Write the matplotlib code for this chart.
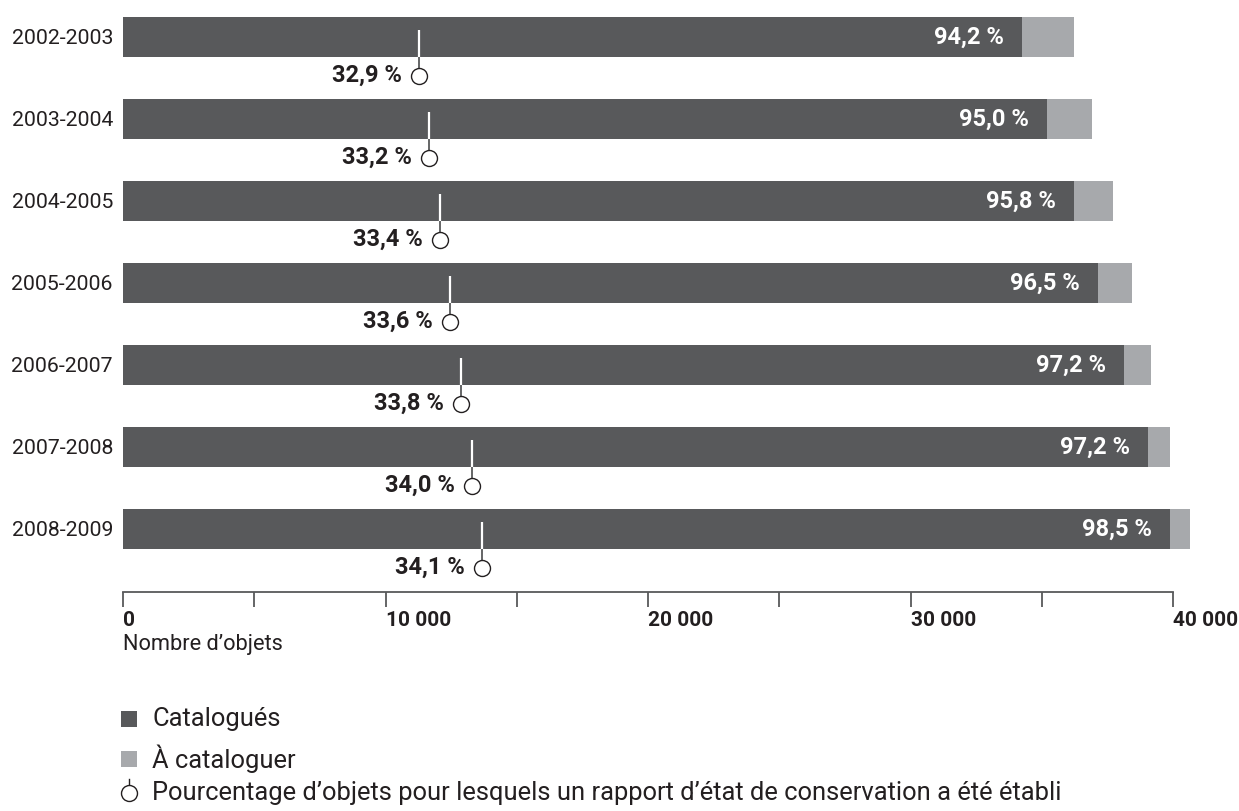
import matplotlib
matplotlib.use("Agg")
import matplotlib.pyplot as plt
from matplotlib.patches import Rectangle
from matplotlib.lines import Line2D

# ---------------- data ----------------
years = ["2002-2003", "2003-2004", "2004-2005", "2005-2006",
         "2006-2007", "2007-2008", "2008-2009"]
catalogues = [34250, 35200, 36230, 37140, 38130, 39050, 39890]
a_cataloguer = [1980, 1710, 1480, 1300, 1030, 840, 760]
conserves = [11280, 11670, 12080, 12460, 12860, 13280, 13670]
pct_catalogues = ["94,2 %", "95,0 %", "95,8 %", "96,5 %", "97,2 %", "97,2 %", "98,5 %"]
pct_conserves = ["32,9 %", "33,2 %", "33,4 %", "33,6 %", "33,8 %", "34,0 %", "34,1 %"]
xticks_major = [0, 10000, 20000, 30000, 40000]
xtick_labels = ["0", "10 000", "20 000", "30 000", "40 000"]
xticks_minor = [5000, 15000, 25000, 35000]
legend_labels = ["Catalogués", "À cataloguer",
                 "Pourcentage d’objets pour lesquels un rapport d’état de conservation a été établi"]

# ---------------- style ----------------
plt.rcParams["font.family"] = ["Roboto", "DejaVu Sans"]
DARK = "#58595b"
LIGHT = "#a7a9ac"
TXT = "#231f20"

W, H = 1239, 811
fig = plt.figure(figsize=(W / 100, H / 100), dpi=100)
fig.patch.set_facecolor("white")

def fx(px):
    return px / W

def fy(py):
    return 1 - py / H

# axes: x 123..1173 px, y 0..592 px
ax = fig.add_axes([fx(123), fy(592), (1173 - 123) / W, 592 / H])
ROW = 82.0  # px per category
ax.set_xlim(0, 40000)
ax.set_ylim(6 + 63 / ROW, -37 / ROW)

n = len(years)
ypos = list(range(n))
bar_h = 40 / ROW
ax.barh(ypos, catalogues, height=bar_h, color=DARK, zorder=2, clip_on=False)
ax.barh(ypos, a_cataloguer, left=catalogues, height=bar_h, color=LIGHT, zorder=2, clip_on=False)

def u(px):
    return px / ROW

for i in range(n):
    x = conserves[i]
    ax.plot([x, x], [i - u(7), i + u(20)], color="white", lw=1.6, zorder=3, solid_capstyle="butt")
    ax.plot([x, x], [i + u(20), i + u(31)], color=DARK, lw=1.3, zorder=3, solid_capstyle="butt")
    ax.plot([x], [i + u(39)], marker="o", ms=11.5, mfc="white", mec=TXT, mew=1.0, zorder=4)
    ax.annotate(pct_conserves[i], xy=(x, i + u(38)), xytext=(-17 * 0.72, 0),
                textcoords="offset points", ha="right", va="center",
                fontsize=17, fontweight="bold", color=TXT)
    ax.annotate(pct_catalogues[i], xy=(catalogues[i], i), xytext=(-18 * 0.72, 0),
                textcoords="offset points", ha="right", va="center",
                fontsize=17, fontweight="bold", color="white", zorder=5)

for s in ["top", "right", "left"]:
    ax.spines[s].set_visible(False)
ax.spines["bottom"].set_color(DARK)
ax.spines["bottom"].set_linewidth(1.3)

ax.set_yticks(ypos)
ax.set_yticklabels(years, fontsize=15.3, color=TXT)
ax.tick_params(axis="y", length=0, pad=7.2)

ax.set_xticks(xticks_major)
ax.set_xticklabels(xtick_labels, fontsize=15, fontweight="bold", color=TXT, ha="left")
ax.set_xticks(xticks_minor, minor=True)
ax.tick_params(axis="x", which="both", direction="out", length=10.8, width=1.3,
               color=DARK, pad=3)

fig.text(fx(123), fy(634), "Nombre d’objets", fontsize=15.7, color=TXT, ha="left", va="top")

# ---------------- legend ----------------
leg_y = [719, 759, 793]
fig.add_artist(Rectangle((fx(121), fy(727)), 16 / W, 16 / H, transform=fig.transFigure,
                         color=DARK, lw=0))
fig.add_artist(Rectangle((fx(121), fy(767)), 16 / W, 16 / H, transform=fig.transFigure,
                         color=LIGHT, lw=0))
fig.add_artist(Line2D([fx(129), fx(129)], [fy(779), fy(786)], transform=fig.transFigure,
                      color=TXT, lw=1.0))
fig.add_artist(Line2D([fx(129)], [fy(793)], transform=fig.transFigure, marker="o", ms=11.5,
                      mfc="white", mec=TXT, mew=1.0))
for yy, lab in zip(leg_y, legend_labels):
    fig.text(fx(152), fy(yy), lab, fontsize=18.4, color=TXT, ha="left", va="center")

fig.savefig("out.png", dpi=100)
